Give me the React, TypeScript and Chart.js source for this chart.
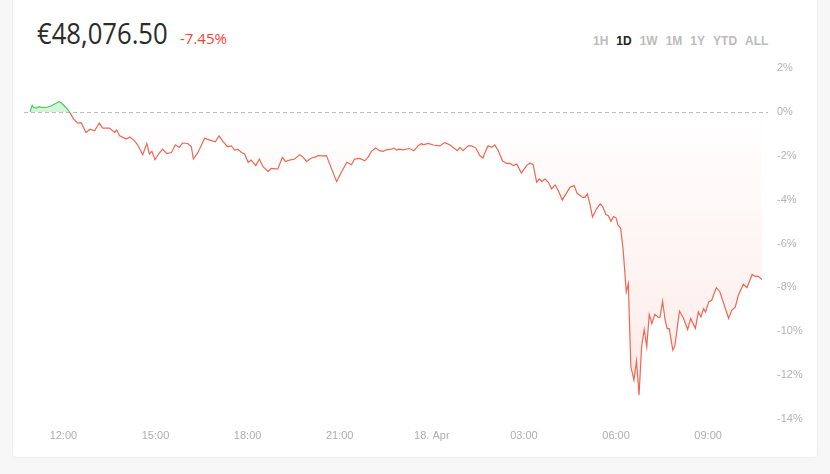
import React, { useEffect, useRef } from "react";
import { Chart, registerables } from "chart.js";

Chart.register(...registerables);

// minutes relative to 12:00 on 17 Apr
const times = [-65,-61,-58,-53,-47,-42,-34,-24,-18,-8,-3,5,12,20,28,35,44,52,61,70,77,90,100,104,110,123,130,139,145,155,163,168,173,179,186,194,202,211,219,226,233,243,250,254,263,276,286,297,304,312,321,328,335,341,348,354,361,367,376,383,390,400,406,416,419,428,434,442,452,462,468,475,485,493,498,507,514,534,543,554,563,569,579,589,595,602,610,618,625,631,641,646,651,656,664,676,685,693,700,703,713,723,736,745,755,763,770,775,781,791,798,806,814,820,824,830,837,843,850,858,866,873,879,886,895,905,912,918,925,930,935,941,948,954,961,967,975,984,990,998,1004,1015,1019,1024,1029,1034,1042,1049,1054,1060,1065,1070,1075,1080,1084,1089,1094,1100,1104,1109,1115,1120,1125,1130,1135,1140,1145,1150,1156,1163,1166,1171,1176,1180,1184,1191,1195,1204,1212,1220,1226,1235,1241,1246,1251,1255,1261,1267,1276,1283,1300,1306,1313,1319,1329,1336,1346,1352,1358,1365];

// change in percent
const changePct = [0.00,0.30,0.20,0.17,0.24,0.20,0.20,0.27,0.35,0.47,0.38,0.20,0.00,-0.33,-0.51,-0.49,-0.94,-0.79,-0.86,-0.51,-0.74,-0.74,-0.94,-0.83,-1.09,-1.24,-1.14,-1.32,-1.50,-1.95,-1.44,-1.92,-1.80,-2.18,-1.92,-1.70,-1.90,-1.85,-1.50,-1.62,-1.42,-1.44,-1.59,-2.15,-1.85,-1.20,-1.29,-1.36,-1.09,-1.36,-1.59,-1.55,-1.74,-1.70,-1.85,-1.92,-2.30,-2.20,-2.45,-2.15,-2.50,-2.71,-2.58,-2.60,-2.60,-2.08,-2.26,-2.20,-2.15,-1.95,-2.05,-2.26,-2.10,-2.05,-1.99,-2.01,-1.99,-3.18,-2.76,-2.30,-2.41,-2.15,-2.12,-2.23,-2.08,-1.80,-1.65,-1.77,-1.80,-1.73,-1.70,-1.65,-1.74,-1.70,-1.73,-1.67,-1.77,-1.55,-1.44,-1.50,-1.44,-1.51,-1.55,-1.40,-1.50,-1.65,-1.77,-1.62,-1.77,-1.55,-1.55,-1.65,-2.00,-2.10,-1.85,-1.55,-1.62,-1.51,-1.77,-2.23,-2.35,-2.35,-2.45,-2.38,-2.79,-2.45,-2.33,-2.41,-3.21,-3.06,-3.17,-3.06,-3.21,-3.51,-3.33,-3.59,-4.01,-3.67,-3.44,-3.36,-3.71,-3.90,-3.90,-3.74,-4.20,-4.80,-4.42,-4.20,-4.32,-4.68,-4.73,-4.99,-4.77,-4.83,-5.18,-5.29,-6.32,-8.21,-7.83,-11.62,-12.23,-11.35,-12.91,-10.71,-9.92,-10.71,-9.23,-9.65,-9.23,-9.38,-9.35,-8.64,-9.50,-9.88,-9.88,-10.86,-10.68,-9.08,-9.42,-9.92,-9.42,-9.88,-9.12,-9.35,-8.97,-9.12,-8.67,-8.59,-8.01,-8.21,-9.42,-9.05,-8.90,-8.36,-7.86,-8.01,-7.41,-7.50,-7.50,-7.64];

const xTickValues = [0, 180, 360, 540, 720, 900, 1080, 1260];
const xTickLabels = ["12:00", "15:00", "18:00", "21:00", "18. Apr", "03:00", "06:00", "09:00"];
const yTickValues = [2, 0, -2, -4, -6, -8, -10, -12, -14];

const rangeButtons = ["1H", "1D", "1W", "1M", "1Y", "YTD", "ALL"];
const activeRange = "1D";
const priceText = "€48,076.50";
const changeText = "-7.45%";

const RED = "#ef6752";
const GREEN = "#45cf55";

export default function App() {
  const canvasRef = useRef<HTMLCanvasElement | null>(null);

  useEffect(() => {
    document.body.style.margin = "0";
    const canvas = canvasRef.current;
    if (!canvas) return;
    const n = Math.min(times.length, changePct.length);
    const points = [];
    for (let i = 0; i < n; i++) points.push({ x: times[i], y: changePct[i] });

    const zeroLine = {
      id: "zeroLine",
      beforeDatasetsDraw(chart: any) {
        const { ctx, chartArea, scales } = chart;
        const y = Math.round(scales.y.getPixelForValue(0)) + 0.5;
        ctx.save();
        ctx.strokeStyle = "#bdbdbd";
        ctx.lineWidth = 1;
        ctx.setLineDash([4, 3]);
        ctx.beginPath();
        ctx.moveTo(chartArea.left, y);
        ctx.lineTo(chartArea.right, y);
        ctx.stroke();
        ctx.restore();
      },
    };

    const chart = new Chart(canvas, {
      type: "line",
      data: {
        datasets: [
          {
            data: points,
            borderWidth: 1.2,
            pointRadius: 0,
            tension: 0,
            borderColor: RED,
            segment: {
              borderColor: (ctx: any) =>
                ctx.p0.parsed.y >= 0 && ctx.p1.parsed.y >= 0 ? GREEN : RED,
            },
            backgroundColor: (context: any) => {
              const chart = context.chart;
              const ys = chart.scales && chart.scales.y;
              if (!chart.chartArea || !ys) return "rgba(240,100,80,0.08)";
              const y0 = ys.getPixelForValue(0);
              const y1 = ys.getPixelForValue(-13);
              const g = chart.ctx.createLinearGradient(0, y0, 0, y1);
              g.addColorStop(0, "rgba(240,100,80,0)");
              g.addColorStop(1, "rgba(240,100,80,0.13)");
              return g;
            },
            fill: { target: { value: 0 }, above: "rgba(69,207,85,0.22)" },
          } as any,
        ],
      },
      options: {
        animation: false,
        responsive: false,
        devicePixelRatio: 1,
        layout: { padding: { left: 24, top: 68, right: 17, bottom: 25 } },
        plugins: { legend: { display: false }, tooltip: { enabled: false } },
        scales: {
          x: {
            type: "linear",
            min: -77,
            max: 1377,
            grid: { display: false },
            border: { display: false },
            afterBuildTicks: (scale: any) => {
              scale.ticks = xTickValues.map((v) => ({ value: v }));
            },
            afterFit: (scale: any) => {
              scale.height = 30;
            },
            ticks: {
              autoSkip: false,
              maxRotation: 0,
              padding: 2,
              color: "#aeaeae",
              font: { family: "'Liberation Sans', Arial, sans-serif", size: 11 },
              callback: (v: any) => {
                const i = xTickValues.indexOf(Number(v));
                return i >= 0 ? xTickLabels[i] : "";
              },
            },
          },
          y: {
            position: "right",
            min: -14,
            max: 2,
            grid: { display: false },
            border: { display: false },
            afterBuildTicks: (scale: any) => {
              scale.ticks = yTickValues.map((v) => ({ value: v }));
            },
            afterFit: (scale: any) => {
              scale.width = 45;
            },
            ticks: {
              padding: 1,
              crossAlign: "near",
              color: "#b4b4b4",
              font: { family: "'Liberation Sans', Arial, sans-serif", size: 11 },
              callback: (v: any) => `${v}%`,
            },
          },
        },
      } as any,
      plugins: [zeroLine],
    });
    return () => chart.destroy();
  }, []);

  return (
    <div
      style={{
        position: "fixed",
        left: 0,
        top: 0,
        width: 830,
        height: 474,
        background: "#f7f7f7",
        overflow: "hidden",
        fontFamily: "'Open Sans', sans-serif",
      }}
    >
      <div
        style={{
          position: "absolute",
          left: 12,
          top: -3,
          width: 804,
          height: 459,
          background: "#fff",
          border: "1px solid #eeeeee",
          borderRadius: 4,
        }}
      />
      <div
        style={{
          position: "absolute",
          left: 37,
          top: 18,
          fontSize: 30,
          lineHeight: "30px",
          color: "#2b2b2b",
          whiteSpace: "nowrap",
          transform: "scaleX(0.855)",
          transformOrigin: "left top",
        }}
      >
        {priceText}
      </div>
      <div
        style={{
          position: "absolute",
          left: 180,
          top: 31,
          fontSize: 15,
          lineHeight: "15px",
          color: "#f4433a",
          whiteSpace: "nowrap",
        }}
      >
        {changeText}
      </div>
      <div
        style={{
          position: "absolute",
          left: 593,
          top: 35,
          display: "flex",
          gap: 8,
          fontFamily: "'Liberation Sans', Arial, sans-serif",
          fontWeight: 700,
          fontSize: 12,
          lineHeight: "12px",
          whiteSpace: "nowrap",
        }}
      >
        {rangeButtons.map((b) => (
          <span key={b} style={{ color: b === activeRange ? "#222" : "#bcbcbc" }}>
            {b}
          </span>
        ))}
      </div>
      <canvas
        ref={canvasRef}
        width={830}
        height={474}
        style={{ position: "absolute", left: 0, top: 0, width: 830, height: 474 }}
      />
    </div>
  );
}
